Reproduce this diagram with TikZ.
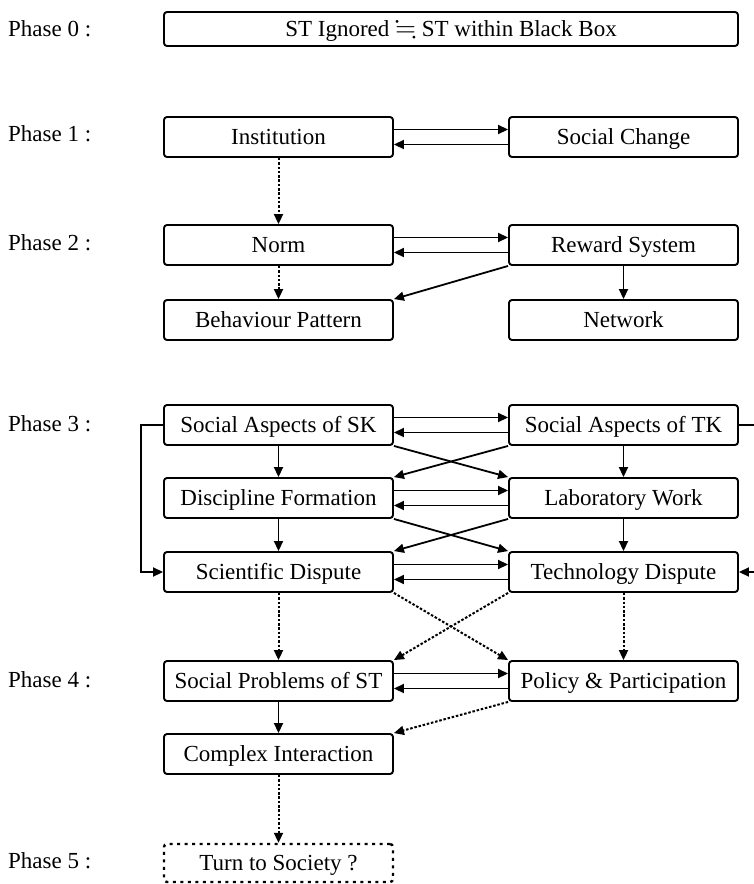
\documentclass[tikz,border=0pt]{standalone}
\usepackage{amssymb}
\usepackage{fontspec}
\setmainfont{Liberation Serif}
\usetikzlibrary{arrows.meta}

\begin{document}
\begin{tikzpicture}[x=1pt,y=-1pt,
  every node/.style={font=\fontsize{23}{27}\selectfont},
  box/.style={draw,rounded corners=3pt,line width=1.9pt,minimum width=229pt,minimum height=40pt,inner sep=0pt,text height=16pt,text depth=1pt},
  phase/.style={anchor=west,inner sep=0pt},
  arr/.style={line width=1.8pt,-{Triangle[length=10pt,width=9pt]}},
  dotarr/.style={arr,line width=2pt,dash pattern=on 2.5pt off 1.8pt}]
  \useasboundingbox (0,0) rectangle (754,884);

  % phase labels
  \node[phase] (p0) at (8,29)  {Phase 0 :};
  \node[phase] (p1) at (8,134) {Phase 1 :};
  \node[phase] (p2) at (8,243) {Phase 2 :};
  \node[phase] (p3) at (8,424) {Phase 3 :};
  \node[phase] (p4) at (8,680) {Phase 4 :};
  \node[phase] (p5) at (8,861) {Phase 5 :};

  % phase 0
  \node[box,minimum width=574pt,minimum height=34pt] (blackbox) at (451,29) {ST Ignored {\fontsize{27}{27}\selectfont$\fallingdotseq$} ST within Black Box};

  % phase 1 and 2
  \node[box] (inst) at (278.5,137) {Institution};
  \node[box] (soc)  at (623.5,137) {Social Change};
  \node[box] (norm) at (278.5,245) {Norm};
  \node[box] (rew)  at (623.5,245) {Reward System};
  \node[box] (beh)  at (278.5,320) {Behaviour Pattern};
  \node[box] (net)  at (623.5,320) {Network};

  % phase 3
  \node[box] (ssk)  at (278.5,425) {Social Aspects of SK};
  \node[box] (stk)  at (623.5,425) {Social Aspects of TK};
  \node[box] (disc) at (278.5,498) {Discipline Formation};
  \node[box] (lab)  at (623.5,498) {Laboratory Work};
  \node[box] (sdis) at (278.5,572) {Scientific Dispute};
  \node[box] (tdis) at (623.5,572) {Technology Dispute};

  % phase 4 and 5
  \node[box] (sprob) at (278.5,681) {Social Problems of ST};
  \node[box] (pol)   at (623.5,681) {Policy \& Participation};
  \node[box] (cplx)  at (278.5,754) {Complex Interaction};
  \node[box,minimum height=38pt,dash pattern=on 3pt off 4.5pt,line width=2.4pt] (turn) at (278.5,863) {Turn to Society ?};

  % two-way links
  \foreach \a/\b in {inst/soc,norm/rew,ssk/stk,disc/lab,sdis/tdis,sprob/pol} {
    \draw[arr] ([yshift=7.5pt]\a.east) -- ([yshift=7.5pt]\b.west);
    \draw[arr] ([yshift=-7.5pt]\b.west) -- ([yshift=-7.5pt]\a.east);
  }

  % downward links
  \draw[dotarr] (inst) -- (norm);
  \draw[dotarr] (norm) -- (beh);
  \draw[arr] (rew) -- (net);
  \draw[arr] (rew.south west) -- (beh.north east);
  \draw[arr] (ssk) -- (disc);
  \draw[arr] (disc) -- (sdis);
  \draw[arr] (stk) -- (lab);
  \draw[arr] (lab) -- (tdis);
  \draw[arr] (ssk.south east) -- (lab.north west);
  \draw[arr] (stk.south west) -- (disc.north east);
  \draw[arr] (disc.south east) -- (tdis.north west);
  \draw[arr] (lab.south west) -- (sdis.north east);

  % side loops
  \draw[arr] (ssk.west) -- ++(-22,0) |- (sdis.west);
  \draw[arr] (stk.east) -- ++(40,0) |- (tdis.east);

  % towards phase 4 and 5
  \draw[dotarr] (sdis) -- (sprob);
  \draw[dotarr] (tdis) -- (pol);
  \draw[dotarr] (sdis.south east) -- (pol.north west);
  \draw[dotarr] (tdis.south west) -- (sprob.north east);
  \draw[dotarr] (pol.south west) -- (cplx.north east);
  \draw[arr] (sprob) -- (cplx);
  \draw[dotarr] (cplx) -- (turn);
\end{tikzpicture}
\end{document}
